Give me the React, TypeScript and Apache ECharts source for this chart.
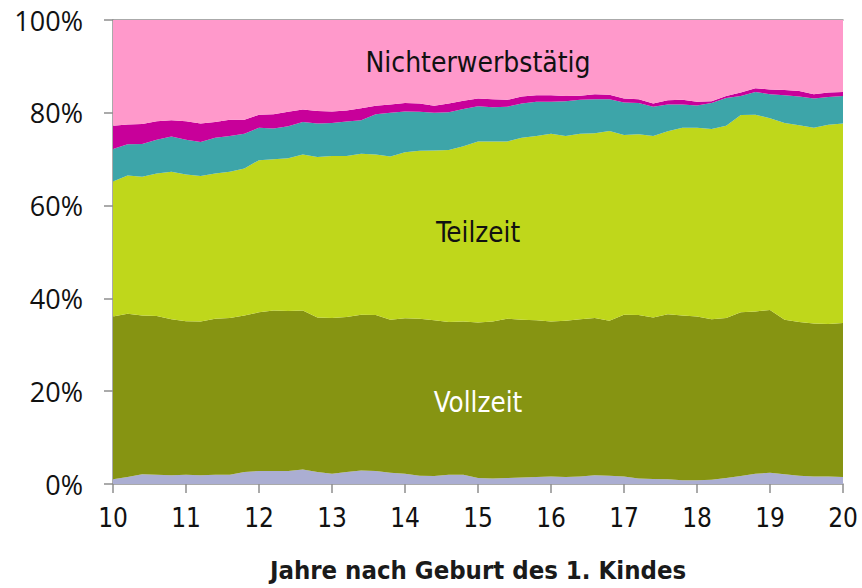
import React, { useEffect, useRef } from "react";
import * as echarts from "echarts";

const years = [
  10.0, 10.2, 10.4, 10.6, 10.8, 11.0, 11.2, 11.4, 11.6, 11.8,
  12.0, 12.2, 12.4, 12.6, 12.8, 13.0, 13.2, 13.4, 13.6, 13.8,
  14.0, 14.2, 14.4, 14.6, 14.8, 15.0, 15.2, 15.4, 15.6, 15.8,
  16.0, 16.2, 16.4, 16.6, 16.8, 17.0, 17.2, 17.4, 17.6, 17.8,
  18.0, 18.2, 18.4, 18.6, 18.8, 19.0, 19.2, 19.4, 19.6, 19.8, 20.0,
];

const sonstige = [
  1.0, 1.5, 2.1, 2.0, 1.9, 2.0, 1.9, 2.0, 2.0, 2.6,
  2.8, 2.8, 2.8, 3.1, 2.6, 2.2, 2.6, 2.9, 2.8, 2.4,
  2.2, 1.8, 1.7, 2.0, 2.0, 1.3, 1.2, 1.3, 1.4, 1.5,
  1.6, 1.5, 1.6, 1.9, 1.8, 1.6, 1.2, 1.1, 1.0, 0.8,
  0.8, 0.9, 1.3, 1.7, 2.2, 2.4, 2.1, 1.8, 1.6, 1.6, 1.5,
];

const vollzeit = [
  35.1, 35.2, 34.2, 34.2, 33.6, 33.1, 33.1, 33.6, 33.8, 33.7,
  34.2, 34.6, 34.5, 34.3, 33.3, 33.6, 33.4, 33.6, 33.6, 33.0,
  33.5, 33.8, 33.6, 32.9, 33.0, 33.5, 33.8, 34.3, 34.0, 33.8,
  33.4, 33.7, 33.9, 33.9, 33.4, 34.9, 35.2, 34.8, 35.6, 35.5,
  35.3, 34.6, 34.5, 35.3, 35.0, 35.1, 33.3, 33.1, 33.0, 32.9, 33.2,
];

const teilzeit = [
  29.1, 29.8, 29.9, 30.7, 31.8, 31.6, 31.4, 31.3, 31.5, 31.7,
  32.8, 32.6, 32.9, 33.6, 34.6, 34.9, 34.7, 34.7, 34.6, 35.2,
  35.8, 36.2, 36.6, 37.1, 37.8, 39.0, 38.8, 38.2, 39.2, 39.7,
  40.5, 39.8, 40.0, 39.8, 40.9, 38.7, 39.0, 39.1, 39.4, 40.5,
  40.7, 41.0, 41.4, 42.5, 42.4, 41.3, 42.4, 42.4, 42.2, 42.9, 43.0,
];

const geringfuegig = [
  7.0, 6.7, 7.1, 7.3, 7.6, 7.5, 7.3, 7.7, 7.7, 7.5,
  7.0, 6.6, 6.9, 7.0, 7.2, 7.1, 7.4, 7.2, 8.7, 9.4,
  8.8, 8.4, 8.1, 8.1, 8.0, 7.6, 7.4, 7.5, 7.4, 7.4,
  6.9, 7.5, 7.3, 7.3, 6.8, 7.0, 6.7, 6.3, 5.8, 5.0,
  4.8, 5.6, 6.0, 4.1, 4.9, 5.2, 6.0, 6.2, 6.3, 6.0, 5.9,
];

const elternzeit = [
  5.0, 4.3, 4.3, 4.0, 3.5, 4.0, 4.0, 3.4, 3.5, 3.0,
  2.8, 3.1, 3.1, 2.7, 2.7, 2.5, 2.4, 2.6, 1.8, 1.8,
  1.8, 1.8, 1.5, 1.9, 1.8, 1.7, 1.7, 1.5, 1.5, 1.4,
  1.4, 1.1, 0.9, 1.1, 1.0, 0.9, 0.8, 0.7, 0.9, 1.0,
  0.8, 0.4, 0.4, 0.8, 0.8, 1.0, 1.1, 1.2, 0.9, 1.0, 0.9,
];

const nichterwerbstaetig = [
  22.8, 22.5, 22.4, 21.8, 21.6, 21.8, 22.3, 22.0, 21.5, 21.5,
  20.4, 20.3, 19.8, 19.3, 19.6, 19.7, 19.5, 19.0, 18.5, 18.2,
  17.9, 18.0, 18.5, 18.0, 17.4, 16.9, 17.1, 17.2, 16.5, 16.2,
  16.2, 16.4, 16.3, 16.0, 16.1, 16.9, 17.1, 18.0, 17.3, 17.2,
  17.6, 17.5, 16.4, 15.6, 14.7, 15.0, 15.1, 15.3, 16.0, 15.6, 15.5,
];

const yTicks = [0, 20, 40, 60, 80, 100];
const xTickLabels = ["10", "11", "12", "13", "14", "15", "16", "17", "18", "19", "20"];

const layers = [
  { name: "Sonstige", values: sonstige, color: "#ABAED2" },
  { name: "Vollzeit", values: vollzeit, color: "#869412" },
  { name: "Teilzeit", values: teilzeit, color: "#BFD71B" },
  { name: "Geringfügig", values: geringfuegig, color: "#3DA5A9" },
  { name: "Elternzeit", values: elternzeit, color: "#C8009A" },
  { name: "Nichterwerbstätig", values: nichterwerbstaetig, color: "#FF99CB" },
];

const condensed = "'DejaVu Sans Condensed', 'Liberation Sans Narrow', 'DejaVu Sans', sans-serif";
const axisGrey = "#8e8e8e";

export default function App() {
  const ref = useRef<HTMLDivElement>(null);

  useEffect(() => {
    if (!ref.current) return;
    const chart = echarts.init(ref.current, undefined, { renderer: "svg" });
    const categories = years.map((y) => y.toFixed(1));
    const isWholeYear = (index: number) =>
      xTickLabels.includes(String(Math.round(years[index] * 10) / 10));
    const option: any = {
      animation: false,
      backgroundColor: "#ffffff",
      grid: { left: 113, right: 19, top: 20, bottom: 101 },
      xAxis: [
        {
          type: "category",
          boundaryGap: false,
          data: categories,
          name: "Jahre nach Geburt des 1. Kindes",
          nameLocation: "middle",
          nameGap: 73,
          nameTextStyle: {
            fontFamily: condensed,
            fontWeight: "bold",
            fontSize: 25.5,
            color: "#1a1a1a",
          },
          axisLine: { show: true, lineStyle: { color: axisGrey, width: 1.5 } },
          axisTick: {
            show: true,
            length: 9,
            interval: (index: number) => isWholeYear(index),
            lineStyle: { color: axisGrey, width: 1.5 },
          },
          axisLabel: {
            margin: 21,
            interval: (index: number) => isWholeYear(index),
            fontFamily: condensed,
            fontSize: 26,
            color: "#111",
            formatter: (v: string) => String(Math.round(parseFloat(v))),
          },
          splitLine: { show: false },
        },
        {
          type: "category",
          position: "top",
          boundaryGap: false,
          data: categories,
          axisLine: { show: true, lineStyle: { color: axisGrey, width: 1.5 } },
          axisTick: { show: false },
          axisLabel: { show: false },
          splitLine: { show: false },
        },
      ],
      yAxis: {
        type: "value",
        min: yTicks[0],
        max: yTicks[yTicks.length - 1],
        interval: 20,
        axisLine: { show: true, lineStyle: { color: axisGrey, width: 1.5 } },
        axisTick: { show: true, length: 9, lineStyle: { color: axisGrey, width: 1.5 } },
        axisLabel: {
          margin: 30,
          fontFamily: "'Open Sans', sans-serif",
          fontSize: 27,
          color: "#111",
          formatter: "{value}%",
        },
        splitLine: { show: false },
      },
      series: layers.map((l) => ({
        name: l.name,
        type: "line",
        stack: "total",
        xAxisIndex: 0,
        symbol: "none",
        smooth: false,
        lineStyle: { width: 0, color: l.color },
        itemStyle: { color: l.color },
        areaStyle: { color: l.color, opacity: 1 },
        data: l.values,
        z: 1,
      })),
      graphic: [
        {
          type: "text",
          x: 478,
          y: 62,
          style: {
            text: "Nichterwerbstätig",
            fontFamily: condensed,
            fontSize: 28,
            fill: "#111",
            align: "center",
            verticalAlign: "middle",
          },
          z: 10,
        },
        {
          type: "text",
          x: 478,
          y: 232,
          style: {
            text: "Teilzeit",
            fontFamily: condensed,
            fontSize: 27.5,
            fill: "#111",
            align: "center",
            verticalAlign: "middle",
          },
          z: 10,
        },
        {
          type: "text",
          x: 478,
          y: 402,
          style: {
            text: "Vollzeit",
            fontFamily: condensed,
            fontSize: 27.5,
            fill: "#ffffff",
            align: "center",
            verticalAlign: "middle",
          },
          z: 10,
        },
      ],
    };
    chart.setOption(option);
    return () => chart.dispose();
  }, []);

  return (
    <div
      ref={ref}
      style={{ position: "fixed", left: 0, top: 0, width: 862, height: 588 }}
    />
  );
}
